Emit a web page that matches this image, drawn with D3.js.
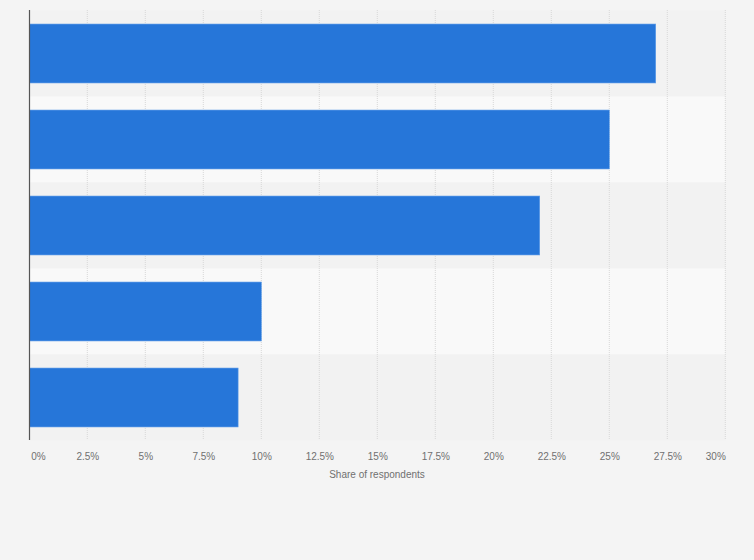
<!DOCTYPE html>
<html><head><meta charset="utf-8">
<script src="https://cdn.jsdelivr.net/npm/d3@7"></script>
<style>html,body{margin:0;padding:0;background:#f4f4f4;}svg{display:block;font-family:"Liberation Sans",Arial,sans-serif;}</style>
</head><body>
<svg id="c" width="754" height="560"></svg>
<script>
const categories = ["A", "B", "C", "D", "E"];
const values = [27, 25, 22, 10, 9];
const ticks = [0, 2.5, 5, 7.5, 10, 12.5, 15, 17.5, 20, 22.5, 25, 27.5, 30];
const tickLabels = ["0%", "2.5%", "5%", "7.5%", "10%", "12.5%", "15%", "17.5%", "20%", "22.5%", "25%", "27.5%", "30%"];
const axisTitle = "Share of respondents";

const svg = d3.select("#c");
const m = {left: 29.3, right: 725.3, top: 10.5, bottom: 440.5};
const x = d3.scaleLinear().domain([0, 30]).range([m.left, m.right]);
const y = d3.scaleBand().domain(categories).range([m.top, m.bottom]).paddingInner(0).paddingOuter(0);
const inner = 0.315;

// bands
svg.append("g").selectAll("rect").data(categories).join("rect")
  .attr("x", m.left).attr("width", m.right - m.left)
  .attr("y", d => y(d)).attr("height", y.bandwidth())
  .attr("fill", (d, i) => i % 2 ? "#f9f9f9" : "#f2f2f2");

// gridlines
svg.append("g").selectAll("line").data(ticks.slice(1)).join("line")
  .attr("x1", d => x(d)).attr("x2", d => x(d))
  .attr("y1", 10).attr("y2", 440)
  .attr("stroke", "#d8d8d8").attr("stroke-width", 1).attr("stroke-dasharray", "1,1");

// bars
const bh = y.bandwidth() * (1 - inner);
svg.append("g").selectAll("rect").data(values).join("rect")
  .attr("x", x(0)).attr("y", (d, i) => y(categories[i]) + (y.bandwidth() - bh) / 2)
  .attr("width", d => x(d) - x(0)).attr("height", bh)
  .attr("fill", "#2676d9").attr("stroke", "#5b9be8").attr("stroke-width", 0.6);

// axis line
svg.append("line").attr("x1", 29.5).attr("x2", 29.5).attr("y1", 10).attr("y2", 440)
  .attr("stroke", "#555").attr("stroke-width", 1.2);

// x axis labels
const xa = d3.axisBottom(x).tickValues(ticks).tickSize(0).tickPadding(0)
  .tickFormat((d, i) => tickLabels[i]);
const g = svg.append("g").attr("transform", `translate(0,${460})`).call(xa);
g.select(".domain").remove();
g.selectAll("text").attr("fill", "#707070").attr("font-size", "10px").attr("dy", 0)
  .attr("text-anchor", (d, i) => i === 0 ? "start" : (i === ticks.length - 1 ? "end" : "middle"))
  .attr("dx", (d, i) => i === 0 ? 1.5 : 0);
g.attr("font-family", null);

svg.append("text").attr("x", 377).attr("y", 478)
  .attr("text-anchor", "middle").attr("fill", "#707070").attr("font-size", "10px").text(axisTitle);
</script>
</body></html>
